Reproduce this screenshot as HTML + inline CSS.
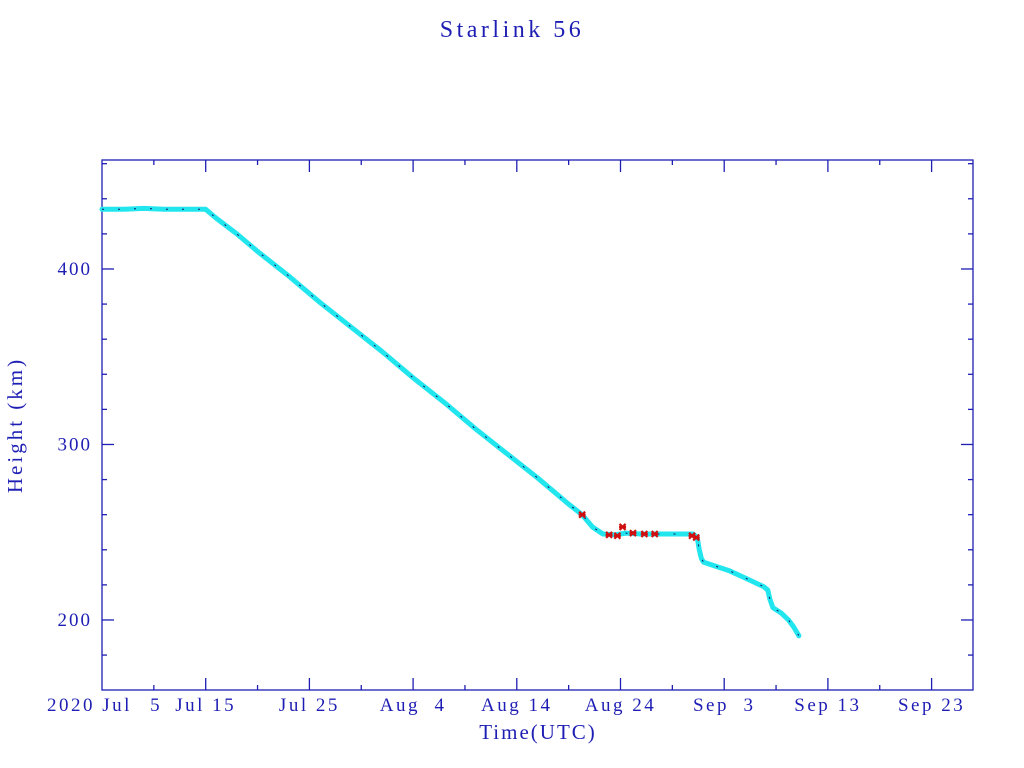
<!DOCTYPE html>
<html><head><meta charset="utf-8">
<style>
html,body{margin:0;padding:0;background:#fff;}
svg{display:block;}
text{font-family:"Liberation Serif",serif;fill:#1e1eb4;}
</style></head>
<body>
<svg id="chart" width="1024" height="768" viewBox="0 0 1024 768" xmlns="http://www.w3.org/2000/svg">
<text x="512" y="37" font-size="24" letter-spacing="3.5" text-anchor="middle">Starlink 56</text>
<text x="538" y="739" font-size="21" letter-spacing="2" text-anchor="middle">Time(UTC)</text>
<text x="22" y="425" font-size="21" letter-spacing="3" text-anchor="middle" transform="rotate(-90 22 425)">Height (km)</text>
<g id="axes"></g>
<g id="marks"></g>
</svg>
<script>
// days since 2020 Jul 5
const trackDays = [0,2,4,6,8,10,11,13,15,18,21,24,27,30,33,36,39,42,45,46.3,47.3,48.3,49.5,50.5,52,54,56,57,57.4,57.6,57.8,58,59,60.5,62,63.8,64.2,64.4,64.7,65.5,66.2,66.7,67.2];
const trackKm   = [434,434,434.5,434,434,434,429,420,410,396,381,367,353,338,324,309,295,281,266,260,253,249,248.5,249.5,249,249,249,249,247,240,235,233,231,228,224,219,217,212,207,204,200,196,191];
const redDays = [46.3,48.9,49.7,50.2,51.2,52.3,53.3,56.9,57.3];
const redKm   = [260,248.5,248,253,249.5,249,249,248,247];
const yMajorTicks = [200,300,400];
const xTickLabels = ["Jul 15","Jul 25","Aug  4","Aug 14","Aug 24","Sep  3","Sep 13","Sep 23"];
const xTickDays = [10,20,30,40,50,60,70,80];

const L=102,R=973,T=160,B=690;
const dayMin=0,dayMax=(R-L)/10.37;
const kmMin=160.1,kmMax=462.1;
const xs=d=>L+(d-dayMin)/(dayMax-dayMin)*(R-L);
const ys=k=>B-(k-kmMin)/(kmMax-kmMin)*(B-T);
const NS="http://www.w3.org/2000/svg";
const C="#1e1eb4";
const axes=document.getElementById('axes'),marks=document.getElementById('marks');
function mk(tag,attrs,parent){const e=document.createElementNS(NS,tag);for(const k in attrs)e.setAttribute(k,attrs[k]);parent.appendChild(e);return e;}

const frame=mk('rect',{x:L,y:T,width:R-L,height:B-T,fill:'none',stroke:C,'stroke-width':1.3},axes);



for(let k=180;k<=460;k+=20){
  const y=ys(k),len=(k%100===0)?12:5;
  const t1=mk('line',{x1:L,y1:y,x2:L+len,y2:y,stroke:C,'stroke-width':1.3},axes);
  
  
  const t2=mk('line',{x1:R,y1:y,x2:R-len,y2:y,stroke:C,'stroke-width':1.3},axes);
  
  
}
yMajorTicks.forEach(k=>{
  const t=mk('text',{x:92,y:ys(k)+6,'font-size':19,'letter-spacing':2,'text-anchor':'end'},axes);
  t.textContent=String(k);
  
  
});
for(let d=5;d<dayMax;d+=5){
  const x=xs(d),len=(d%10===0)?12:5;
  const a=mk('line',{x1:x,y1:B,x2:x,y2:B-len,stroke:C,'stroke-width':1.3},axes);
  
  
  const b=mk('line',{x1:x,y1:T,x2:x,y2:T+len,stroke:C,'stroke-width':1.3},axes);
  
  
}
xTickLabels.forEach((s,i)=>{
  const t=mk('text',{x:xs(xTickDays[i]),y:711,'font-size':19,'letter-spacing':2.5,'text-anchor':'middle'},axes);
  t.setAttribute('style','white-space:pre');
  t.textContent=s;
  
  
});
const t0=mk('text',{x:47,y:711,'font-size':19,'letter-spacing':2.5},axes);
t0.textContent="2020 Jul";


const t5=mk('text',{x:xs(5)+1,y:711,'font-size':19,'text-anchor':'middle'},axes);
t5.textContent="5";



const pts=trackDays.map((d,i)=>xs(d).toFixed(1)+','+ys(trackKm[i]).toFixed(1)).join(' ');
const band=mk('polyline',{points:pts,fill:'none',stroke:'#22e6ee','stroke-width':5,'stroke-linejoin':'round','stroke-linecap':'round'},marks);


const line=mk('polyline',{points:pts,fill:'none',stroke:'#101070','stroke-width':1,'stroke-dasharray':'2 14'},marks);


redDays.forEach((d,i)=>{
  const x=xs(d),y=ys(redKm[i]);
  const p=mk('path',{d:`M${x-3},${y-3}L${x+3},${y+3}M${x-3},${y+3}L${x+3},${y-3}M${x-3.5},${y}L${x+3.5},${y}`,stroke:'#d01010','stroke-width':2.2},marks);
  
  
});
</script>
</body></html>
